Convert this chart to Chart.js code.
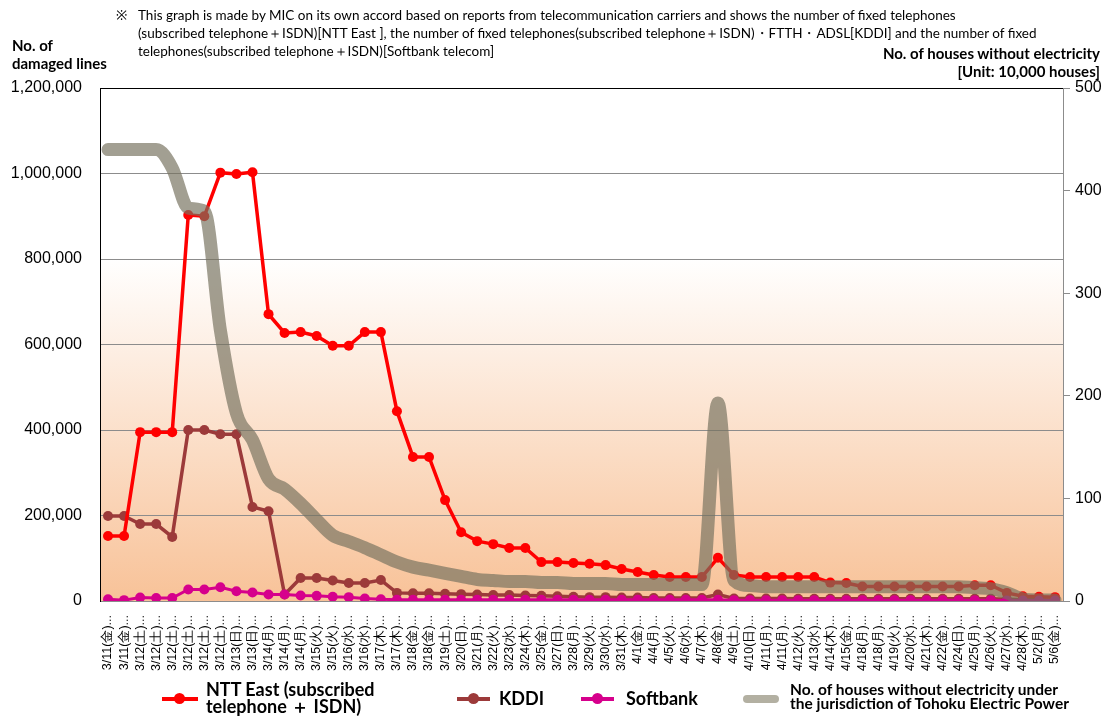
<!DOCTYPE html>
<html>
<head>
<meta charset="utf-8">
<script src="https://cdn.jsdelivr.net/npm/chart.js@4.4.0/dist/chart.umd.min.js"></script>
<style>
body { margin: 0; background: #fff; }
#wrap { position: relative; width: 1109px; height: 719px; overflow: hidden; font-family: Lato, "Noto Sans", sans-serif; color: #000; }
#myChart { position: absolute; left: 0; top: 0; }
.t { position: absolute; white-space: nowrap; }
.note { font-size: 13.5px; line-height: 18px; }
.ttl { font-weight: bold; font-size: 15px; line-height: 18px; }
.leg { position: absolute; font-weight: bold; white-space: nowrap; }
.ln { position: absolute; height: 4px; }
.dot { position: absolute; width: 11px; height: 11px; border-radius: 6px; }
</style>
</head>
<body>
<div id="wrap">
  <canvas id="myChart" width="1109" height="719"></canvas>

  <div class="t note" style="left:116px; top:6px;">※</div>
  <div class="t note" style="left:138px; top:6px;">This graph is made by MIC on its own accord based on reports from telecommunication carriers and shows the number of fixed telephones<br>(subscribed telephone＋ISDN)[NTT East ], the number of fixed telephones(subscribed telephone＋ISDN)・FTTH・ADSL[KDDI] and the number of fixed<br>telephones(subscribed telephone＋ISDN)[Softbank telecom]</div>

  <div class="t ttl" style="left:12px; top:36px;">No. of<br>damaged lines</div>
  <div class="t ttl" style="right:9px; top:44px; text-align:right;">No. of houses without electricity<br>[Unit: 10,000 houses]</div>

  <div class="ln" style="left:162px; top:697px; width:36px; background:#ff0000;"></div>
  <div class="dot" style="left:174px; top:693px; background:#ff0000;"></div>
  <div class="leg" style="left:206px; top:681px; font-size:18px; line-height:17px;">NTT East (subscribed<br>telephone ＋ ISDN)</div>

  <div class="ln" style="left:457px; top:697px; width:33px; background:#9c3a3a;"></div>
  <div class="dot" style="left:468px; top:693px; background:#9c3a3a;"></div>
  <div class="leg" style="left:499px; top:689px; font-size:18px; line-height:18px;">KDDI</div>

  <div class="ln" style="left:581px; top:697px; width:33px; background:#d6008c;"></div>
  <div class="dot" style="left:592px; top:693px; background:#d6008c;"></div>
  <div class="leg" style="left:626px; top:689px; font-size:18px; line-height:18px;">Softbank</div>

  <div class="ln" style="left:743px; top:695px; width:36px; height:8px; border-radius:4px; background:#b3b0a2;"></div>
  <div class="leg" style="left:790px; top:682px; font-size:15.5px; line-height:14px;">No. of houses without electricity under<br>the jurisdiction of Tohoku Electric Power</div>
</div>

<script>
var labels = [
  '3/11(金)', '3/11(金)', '3/12(土)', '3/12(土)', '3/12(土)', '3/12(土)', '3/12(土)', '3/12(土)',
  '3/13(日)', '3/13(日)', '3/14(月)', '3/14(月)', '3/14(月)', '3/15(火)', '3/15(火)',
  '3/16(水)', '3/16(水)', '3/17(木)', '3/17(木)', '3/18(金)', '3/18(金)', '3/19(土)',
  '3/20(日)', '3/21(月)', '3/22(火)', '3/23(水)', '3/24(木)', '3/25(金)', '3/27(日)',
  '3/28(月)', '3/29(火)', '3/30(水)', '3/31(木)', '4/1(金)', '4/4(月)', '4/5(火)',
  '4/6(水)', '4/7(木)', '4/8(金)', '4/9(土)', '4/10(日)', '4/11(月)', '4/11(月)',
  '4/12(火)', '4/13(水)', '4/14(木)', '4/15(金)', '4/18(月)', '4/18(月)', '4/19(火)',
  '4/20(水)', '4/21(木)', '4/22(金)', '4/24(日)', '4/25(月)', '4/26(火)', '4/27(水)',
  '4/28(木)', '5/2(月)', '5/6(金)'
];

// damaged lines (left axis)
var nttEast = [
  152000, 152000, 395000, 395000, 395000, 903000, 900000, 1002000, 999000, 1003000,
  671000, 627000, 629000, 620000, 597000, 597000, 629000, 629000, 444000, 337000,
  337000, 236000, 161000, 140000, 133000, 124000, 124000, 91000, 91000, 89000,
  87000, 84000, 75000, 68000, 61000, 56000, 56000, 56000, 101000, 61000,
  56000, 56000, 56000, 56000, 56000, 43000, 42000, 34000, 34000, 34000,
  34000, 34000, 34000, 34000, 37000, 37000, 19000, 11000, 10000, 9000
];
var kddi = [
  199000, 199000, 180000, 180000, 150000, 400000, 400000, 390000, 390000, 220000,
  210000, 15000, 54000, 54000, 48000, 42000, 42000, 49000, 19000, 18000,
  18000, 17000, 16000, 15000, 14000, 14000, 13000, 12000, 11000, 10000,
  9000, 9000, 8000, 8000, 7000, 7000, 7000, 7000, 15000, 6000,
  6000, 6000, 6000, 5000, 5000, 5000, 5000, 5000, 5000, 5000,
  5000, 5000, 5000, 5000, 5000, 5000, 4000, 3000, 3000, 2000
];
var softbank = [
  4000, 2000, 8000, 7000, 7000, 27000, 27000, 32000, 23000, 20000,
  15000, 15000, 13000, 12000, 10000, 9000, 6000, 4000, 3000, 3000,
  3000, 3000, 3000, 3000, 3000, 3000, 3000, 3000, 3000, 3000,
  3000, 3000, 3000, 3000, 3000, 3000, 3000, 3000, 3000, 2000,
  2000, 2000, 2000, 2000, 2000, 2000, 2000, 2000, 2000, 2000,
  2000, 2000, 2000, 2000, 2000, 2000, 1000, 1000, 1000, 1000
];
// houses without electricity, 10,000 houses (right axis)
var noPower = [
  440, 440, 440, 440, 422, 383, 380, 264, 183, 157,
  119, 109, 95, 79, 64, 58, 52, 45, 38, 33,
  30, 27, 24, 21, 20, 19, 19, 18, 18, 17,
  17, 17, 16, 16, 16, 16, 16, 16, 193, 20,
  15, 14, 14, 14, 14, 14, 14, 14, 14, 14,
  14, 14, 14, 14, 13, 12, 8, 2, 1, 1
];

var bgPlugin = {
  id: 'bgPlugin',
  beforeDraw: function(chart) {
    var a = chart.chartArea;
    var ctx = chart.ctx;
    var g = ctx.createLinearGradient(0, a.top, 0, a.bottom);
    g.addColorStop(0, '#ffffff');
    g.addColorStop(0.33, '#ffffff');
    g.addColorStop(1, '#f8c298');
    ctx.save();
    ctx.fillStyle = g;
    ctx.fillRect(a.left, a.top, a.right - a.left, a.bottom - a.top);
    ctx.restore();
  }
};

var tickFont = { family: '"Liberation Sans", Arial, sans-serif', size: 16 };

var ctx = document.getElementById('myChart').getContext('2d');
var chart = new Chart(ctx, {
  type: 'line',
  data: {
    labels: labels,
    datasets: [{
      label: 'No. of houses without electricity under the jurisdiction of Tohoku Electric Power',
      data: noPower,
      yAxisID: 'y1',
      order: 0,
      borderColor: 'rgba(118,114,94,0.68)',
      borderWidth: 13,
      borderCapStyle: 'round',
      borderJoinStyle: 'round',
      cubicInterpolationMode: 'monotone',
      pointRadius: 0,
      fill: false
    }, {
      label: 'Softbank',
      data: softbank,
      yAxisID: 'y',
      order: 1,
      borderColor: '#d6008c',
      backgroundColor: '#d6008c',
      borderWidth: 3,
      pointRadius: 5,
      pointBorderWidth: 0,
      fill: false
    }, {
      label: 'NTT East (subscribed telephone ＋ ISDN)',
      data: nttEast,
      yAxisID: 'y',
      order: 2,
      borderColor: '#ff0000',
      backgroundColor: '#ff0000',
      borderWidth: 3.5,
      pointRadius: 5,
      pointBorderWidth: 0,
      fill: false
    }, {
      label: 'KDDI',
      data: kddi,
      yAxisID: 'y',
      order: 3,
      borderColor: '#9c3a3a',
      backgroundColor: '#9c3a3a',
      borderWidth: 3.5,
      pointRadius: 5,
      pointBorderWidth: 0,
      fill: false
    }]
  },
  options: {
    responsive: false,
    animation: false,
    devicePixelRatio: 1,
    layout: { padding: { top: 88, bottom: 48, left: 0, right: 0 } },
    plugins: {
      legend: { display: false },
      tooltip: { enabled: false }
    },
    scales: {
      x: {
        offset: true,
        grid: { display: false },
        border: { display: false },
        ticks: {
          autoSkip: false,
          maxRotation: 90,
          minRotation: 90,
          padding: 6,
          color: '#000',
          font: { family: '"Liberation Sans", Arial, sans-serif', size: 12.5 },
          callback: function(v, i) { return labels[i] + '...'; }
        },
        afterFit: function(s) { s.height = 70; }
      },
      y: {
        position: 'left',
        min: 0,
        max: 1200000,
        ticks: {
          stepSize: 200000,
          padding: 18,
          color: '#000',
          font: tickFont,
          callback: function(v) { return v.toLocaleString('en-US'); }
        },
        grid: {
          drawTicks: false,
          color: function(c) { return c.tick && c.tick.value === 1200000 ? '#000' : '#8c8c8c'; }
        },
        border: { display: true, color: '#000' },
        afterFit: function(s) { s.width = 100; }
      },
      y1: {
        position: 'right',
        min: 0,
        max: 500,
        ticks: { stepSize: 100, padding: 5, color: '#000', font: tickFont },
        grid: { drawOnChartArea: false, tickLength: 7, color: '#8c8c8c' },
        border: { display: true, color: '#8c8c8c' },
        afterFit: function(s) { s.width = 46; }
      }
    }
  },
  plugins: [bgPlugin]
});
</script>
</body>
</html>
